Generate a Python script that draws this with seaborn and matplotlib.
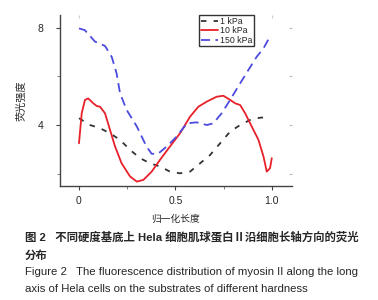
import matplotlib
matplotlib.use("Agg")
import matplotlib.pyplot as plt
import seaborn as sns
import pandas as pd
from matplotlib.ticker import MultipleLocator

# 1 kPa (black short dashes)
x_1k = [0, 0.057, 0.109, 0.161, 0.213, 0.265, 0.317, 0.369, 0.42, 0.472, 0.524,
        0.576, 0.628, 0.68, 0.732, 0.784, 0.836, 0.888, 0.939, 0.991]
y_1k = [4.29, 4.01, 3.88, 3.67, 3.40, 2.99, 2.65, 2.44, 2.31, 2.10, 2.03,
        2.10, 2.44, 2.78, 3.26, 3.74, 4.01, 4.22, 4.31, 4.33]

# 10 kPa (red solid)
x_10k = [0, 0.014, 0.031, 0.048, 0.074, 0.092, 0.109, 0.135, 0.161, 0.187, 0.221,
         0.265, 0.30, 0.334, 0.377, 0.42, 0.472, 0.524, 0.576, 0.619, 0.663, 0.714,
         0.749, 0.784, 0.81, 0.836, 0.862, 0.896, 0.931, 0.957, 0.974, 0.991, 1.0]
y_10k = [3.26, 4.49, 5.04, 5.10, 4.90, 4.79, 4.76, 4.49, 3.81, 3.13, 2.44,
         1.90, 1.69, 1.76, 2.10, 2.58, 3.13, 3.67, 4.35, 4.76, 4.97, 5.17,
         5.21, 5.04, 4.90, 4.83, 4.49, 3.95, 3.40, 2.72, 2.10, 2.24, 2.65]

# 150 kPa (blue long dashes)
x_150k = [0, 0.03, 0.083, 0.135, 0.17, 0.195, 0.213, 0.247, 0.30, 0.35, 0.377,
          0.41, 0.455, 0.507, 0.56, 0.61, 0.663, 0.697, 0.74, 0.784, 0.836, 0.879,
          0.922, 0.957, 0.99]
y_150k = [7.97, 7.90, 7.43, 7.25, 6.80, 6.13, 5.31, 4.63, 3.95, 3.13, 2.83,
          2.83, 3.13, 3.54, 4.08, 4.12, 4.01, 4.08, 4.49, 5.04, 5.72, 6.27,
          6.81, 7.15, 7.63]

labels = ["1 kPa", "10 kPa", "150 kPa"]
colors = ["#333333", "#e8202a", "#4b4be0"]

frames = []
for lab, xs, ys in zip(labels, [x_1k, x_10k, x_150k], [y_1k, y_10k, y_150k]):
    frames.append(pd.DataFrame({"x": xs, "y": ys, "series": lab}))
df = pd.concat(frames, ignore_index=True)

sns.set_theme(style="white")
plt.rcParams["font.family"] = ["Liberation Sans", "Noto Sans CJK SC", "DejaVu Sans"]

fig = plt.figure(figsize=(3.78, 3.0), dpi=100)
ax = fig.add_axes([0.159, 0.38, 0.613, 0.57])

styles = {"1 kPa": (0, (3, 4)), "10 kPa": "-", "150 kPa": (0, (5, 3))}
for lab, col in zip(labels, colors):
    sub = df[df["series"] == lab]
    sns.lineplot(data=sub, x="x", y="y", ax=ax, color=col, linewidth=1.3,
                 linestyle=styles[lab], label=lab, sort=False)

ax.set_xlim(-0.098, 1.104)
ax.set_ylim(1.51, 8.52)
ax.set_xticks([0, 0.5, 1.0])
ax.set_xticklabels(["0", "0.5", "1.0"])
ax.xaxis.set_minor_locator(MultipleLocator(0.25))
ax.set_yticks([4, 8])
ax.set_yticklabels(["4", "8"])
ax.yaxis.set_minor_locator(MultipleLocator(2))

for s in ["top", "right"]:
    ax.spines[s].set_visible(False)
for s in ["left", "bottom"]:
    ax.spines[s].set_color("#444444")
    ax.spines[s].set_linewidth(1.0)

ax.tick_params(axis="x", which="major", direction="out", length=3, width=0.8,
               color="#444444", labelsize=7.5, pad=4, bottom=True, top=False)
ax.tick_params(axis="x", which="minor", direction="out", length=2, width=0.6,
               color="#666666", bottom=True, top=False)
ax.tick_params(axis="y", which="major", direction="out", length=3, width=0.8,
               color="#444444", labelsize=7.5, pad=9, left=True, right=False)
ax.tick_params(axis="y", which="minor", direction="out", length=2, width=0.6,
               color="#666666", left=True, right=False)

# faint marks on the open right / top side
sec_y = ax.secondary_yaxis("right")
sec_y.spines["right"].set_visible(False)
sec_y.set_yticks([2, 4, 6, 8])
sec_y.tick_params(axis="y", direction="in", length=2, width=0.8,
                  color="#bbbbbb", labelright=False)
sec_x = ax.secondary_xaxis("top")
sec_x.spines["top"].set_visible(False)
sec_x.set_xticks([0, 1.0])
sec_x.tick_params(axis="x", direction="in", length=2, width=0.8,
                  color="#cccccc", labeltop=False)

ax.set_xlabel("归一化长度", fontsize=7, labelpad=6)
ax.set_ylabel("荧光强度", fontsize=7.3, labelpad=8)

leg = ax.legend(loc="upper left", bbox_to_anchor=(0.6, 1.0), fontsize=6.3,
                frameon=True, fancybox=False, borderpad=0.2, labelspacing=0.05,
                handlelength=2.0, handletextpad=0.2, borderaxespad=0)
leg.get_frame().set_edgecolor("black")
leg.get_frame().set_linewidth(1.0)

fig.text(0.066, 0.21, "图 2   不同硬度基底上 Hela 细胞肌球蛋白Ⅱ沿细胞长轴方向的荧光",
         fontsize=8.2, fontweight="bold", va="center")
fig.text(0.066, 0.147, "分布", fontsize=8.2, fontweight="bold", va="center")
fig.text(0.066, 0.093, "Figure 2   The fluorescence distribution of myosin II along the long",
         fontsize=8.2, va="center")
fig.text(0.066, 0.037, "axis of Hela cells on the substrates of different hardness",
         fontsize=8.2, va="center")

fig.savefig("out.png", dpi=100)
